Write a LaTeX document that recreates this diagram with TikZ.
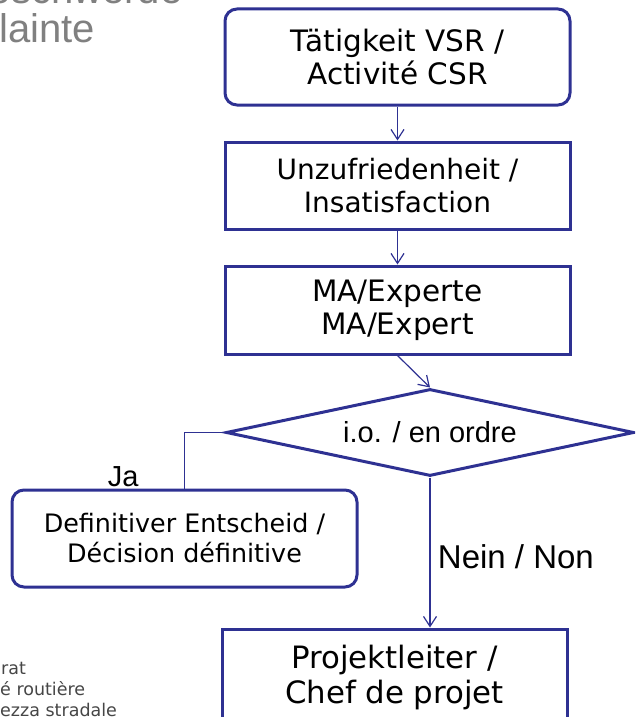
\documentclass[tikz,border=0pt]{standalone}
\usepackage{fontspec}
\setmainfont{DejaVu Sans}
\newfontfamily\arialfont{Liberation Sans}
\usepackage{tikz}
\usetikzlibrary{shapes.geometric}
\usetikzlibrary{arrows.meta}
\usetikzlibrary{positioning}
\tikzset{box/.style={draw=navy,line width=3pt,inner sep=0pt,minimum width=345pt,align=center,font=\fontsize{29.5}{33}\selectfont}}
\tikzset{rbox/.style={box,rounded corners=12pt}}
\tikzset{flow/.style={navy,line width=1.2pt,-{Straight Barb[length=10pt,width=13pt]}}}
\tikzset{lbl/.style={text=black,font=\arialfont\fontsize{29}{29}\selectfont}}
\tikzset{side/.style={anchor=base west,inner sep=0pt,text=sidegrey,font=\fontsize{17.5}{17.5}\selectfont}}
\tikzset{big/.style={anchor=base west,inner sep=0pt,text=biggrey,font=\arialfont\fontsize{40}{40}\selectfont}}
\definecolor{navy}{RGB}{46,49,146}
\definecolor{biggrey}{RGB}{128,128,128}
\definecolor{sidegrey}{RGB}{70,70,70}

\begin{document}
\begin{tikzpicture}[x=1pt,y=-1pt]
  \useasboundingbox (0,0) rectangle (635,717);
  \clip (0,0) rectangle (635,717);
  % titles cut by the page edge
  \node[big] (compl1) at (-38,4) {Beschwerde};
  \node[big] (compl2) at (-27.5,43) {Plainte};
  \node[side] (sec1) at (1,674) {rat};
  \node[side] (sec2) at (0,695) {é routière};
  \node[side] (sec3) at (0,716) {ezza stradale};
  % flow
  \node[rbox,minimum height=96pt] (act) at (397.5,57) {Tätigkeit VSR /\\Activité CSR};
  \node[box,minimum height=87pt,font=\fontsize{28}{33}\selectfont] (unz) at (397.5,185.5) {Unzufriedenheit /\\Insatisfaction};
  \node[box,minimum height=88pt] (exp) at (397.5,310) {MA/Experte\\MA/Expert};
  \node[diamond,draw=navy,line width=3pt,inner sep=0pt,aspect=4.7,minimum width=408pt,minimum height=87pt,lbl] (dec) at (430,432.5) {i.o. / en ordre};
  \node[rbox,minimum height=97pt,font=\fontsize{25.4}{30}\selectfont] (def) at (184.5,538.5) {Definitiver Entscheid /\\Décision définitive};
  \node[box,minimum height=96pt,font=\fontsize{30.8}{35}\selectfont] (proj) at (394.5,677) {Projektleiter /\\Chef de projet};
  \draw[flow] (act) -- (unz);
  \draw[flow] (unz) -- (exp);
  \draw[flow] (exp.south) -- (dec.north);
  \draw[navy,line width=1.2pt] (dec.west) -| node[lbl,pos=0.89,left=42pt] {Ja} (def.north);
  \draw[flow] (dec.south) -- node[lbl,pos=0.53,right=4pt,font=\arialfont\fontsize{33}{33}\selectfont] {Nein / Non} (dec.south |- proj.north);
\end{tikzpicture}
\end{document}
